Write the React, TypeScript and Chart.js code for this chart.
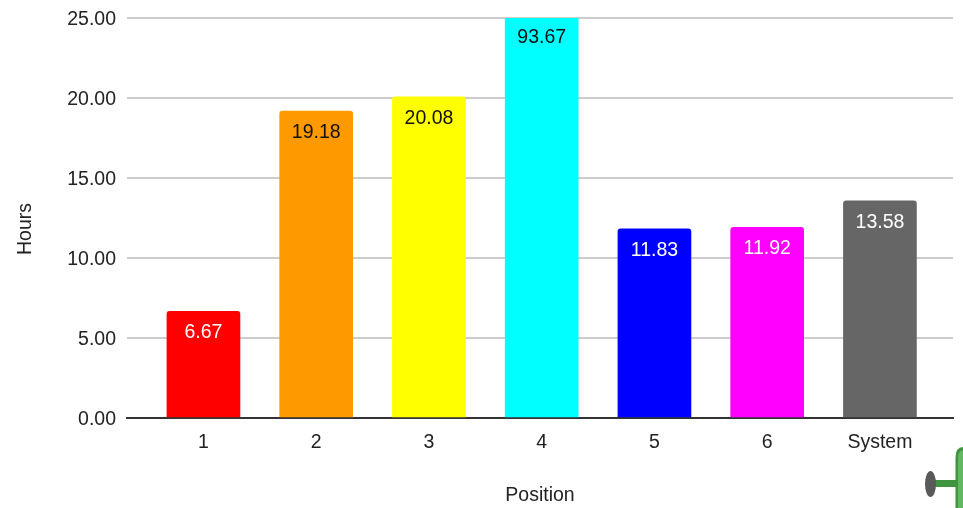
import React, { useEffect, useRef } from "react";
import { Chart, registerables } from "chart.js";

Chart.register(...registerables);

const categories = ["1", "2", "3", "4", "5", "6", "System"];
const hours = [6.67, 19.18, 20.08, 93.67, 11.83, 11.92, 13.58];
const barColors = ["#ff0000", "#ff9900", "#ffff00", "#00ffff", "#0000ff", "#ff00ff", "#666666"];
const labelColors = ["#ffffff", "#111111", "#111111", "#111111", "#ffffff", "#ffffff", "#ffffff"];
const yAxisTitle = "Hours";

const FONT = "'Liberation Sans', Arial, sans-serif";
const FONT_SIZE = 19.5;
const TEXT = "#222222";

// Writes each value just inside the visible top of its bar, and the vertical axis title.
const valueLabels = {
  id: "valueLabels",
  afterDatasetsDraw(chart: any) {
    const { ctx, chartArea } = chart;
    const bars = chart.getDatasetMeta(0).data;
    ctx.save();
    ctx.font = `${FONT_SIZE}px ${FONT}`;
    ctx.textAlign = "center";
    ctx.textBaseline = "middle";
    bars.forEach((bar: any, i: number) => {
      const clipped = bar.y < chartArea.top;
      ctx.fillStyle = labelColors[i];
      ctx.fillText(hours[i].toFixed(2), bar.x, clipped ? chartArea.top + 19.5 : bar.y + 21.5);
    });
    ctx.translate(26, 229);
    ctx.rotate(-Math.PI / 2);
    ctx.fillStyle = TEXT;
    ctx.fillText(yAxisTitle, 0, 0);
    ctx.restore();
  },
};

export default function App() {
  const ref = useRef<HTMLCanvasElement>(null);

  useEffect(() => {
    document.body.style.margin = "0";
    document.body.style.background = "#ffffff";
    const chart = new Chart(ref.current!, {
      type: "bar",
      data: {
        datasets: [
          {
            data: hours.map((y, x) => ({ x, y })),
            backgroundColor: barColors,
            barThickness: 73,
            borderRadius: { topLeft: 3, topRight: 3, bottomLeft: 0, bottomRight: 0 },
            borderSkipped: "bottom",
          },
        ],
      },
      options: {
        responsive: false,
        animation: false,
        events: [],
        layout: { padding: { top: 18, right: 10, left: 0, bottom: 0 } },
        plugins: { legend: { display: false }, tooltip: { enabled: false } },
        scales: {
          x: {
            type: "linear",
            offset: false,
            min: -0.678,
            max: 6.648,
            afterBuildTicks(scale: any) {
              scale.ticks = categories.map((_, value) => ({ value }));
            },
            afterFit(scale: any) {
              scale.height = 90;
            },
            grid: { display: false },
            border: { display: true, color: "#333333", width: 2 },
            ticks: {
              autoSkip: false,
              maxRotation: 0,
              color: TEXT,
              padding: 5,
              font: { family: FONT, size: FONT_SIZE },
              callback: (value: any) => categories[value],
            },
            title: {
              display: true,
              text: "Position",
              color: TEXT,
              font: { family: FONT, size: FONT_SIZE },
              padding: { top: 0, bottom: 1 },
            },
          },
          y: {
            min: 0,
            max: 25,
            afterFit(scale: any) {
              scale.width = 127;
              scale.paddingTop = 0;
              scale.paddingBottom = 0;
            },
            grid: {
              color: (c: any) => (c.tick.value === 0 ? "transparent" : "#cccccc"),
              lineWidth: 2,
              drawTicks: false,
            },
            border: { display: false },
            ticks: {
              stepSize: 5,
              color: TEXT,
              padding: 11,
              labelOffset: 2,
              font: { family: FONT, size: FONT_SIZE },
              callback: (value: any) => Number(value).toFixed(2),
            },
          },
        },
      },
      plugins: [valueLabels],
    } as any);
    return () => chart.destroy();
  }, []);

  return (
    <div style={{ position: "relative", width: 963, height: 508, overflow: "hidden" }}>
      <canvas ref={ref} width={963} height={508} style={{ display: "block" }} />
      {/* Green pipe fitting sitting in the lower right corner */}
      <svg width={963} height={508} style={{ position: "absolute", left: 0, top: 0, pointerEvents: "none" }}>
        <rect x={933} y={480} width={26} height={7} fill="#3f9440" />
        <ellipse cx={930.5} cy={484} rx={5.5} ry={13} fill="#5a5a5a" />
        <path d="M955.5 508 V458 Q955.5 447 963 447 V508 Z" fill="#3f9440" />
        <path d="M958 508 V458 Q958 451 963 450 V508 Z" fill="#62b862" />
      </svg>
    </div>
  );
}
